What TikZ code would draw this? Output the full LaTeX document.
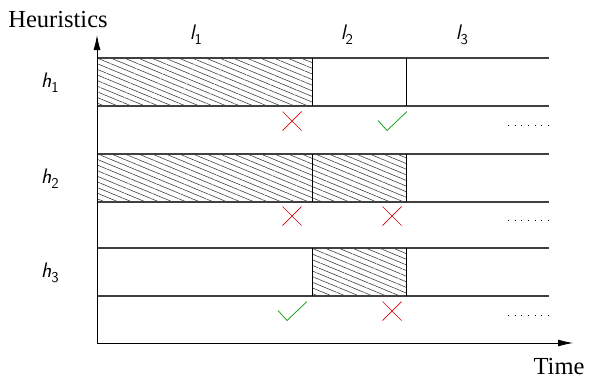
\documentclass[tikz,border=0pt]{standalone}
\usepackage{fontspec}
\setmainfont{Liberation Serif}
\usetikzlibrary{arrows.meta,patterns.meta}
\newcommand\heurlab[2]{#1\raisebox{-0.28em}{\fontsize{15}{17}\selectfont\upshape #2}}
\begin{document}
\begin{tikzpicture}[x=1pt,y=-1pt,
 band/.style={draw=black!75, line width=1.1pt},
 hatch/.style={pattern={Lines[angle=-22.5,distance=5.2pt,line width=0.6pt]}, pattern color=black!75},
 sep/.style={draw=black, line width=0.8pt},
 axis/.style={draw=black, line width=0.8pt, -{Latex[length=15pt,width=7pt]}},
 cross/.style={draw=red!85!black, line width=0.7pt},
 tick/.style={draw=green!60!black, line width=0.7pt},
 more/.style={draw=black, line width=0.8pt, dash pattern=on 0.8pt off 5.87pt},
 lab/.style={font=\fontsize{21}{24}\selectfont\sffamily\itshape, inner sep=0pt},
 ttl/.style={font=\fontsize{24.5}{28}\selectfont, inner sep=0pt},
 xmark/.pic={\draw[cross] (-9.5,-9.5) -- (9.5,9.5) (-9.5,9.5) -- (9.5,-9.5);},
 okmark/.pic={\draw[tick] (-14,-0.5) -- (-5,9.5) -- (15,-9.5);}]
\useasboundingbox (0,0) rectangle (589,378);
% hatched intervals
\fill[hatch] (97,58) rectangle (312,106);
\fill[hatch] (97,154) rectangle (406,202);
\fill[hatch] (312,248) rectangle (406,296);
% band lines
\foreach \yy in {58,106,154,202,248,296}{\draw[band] (97,\yy) -- (549,\yy);}
% interval separators
\foreach \yt/\yb in {58/106,154/202,248/296}{
  \draw[sep] (312,\yt) -- (312,\yb);
  \draw[sep] (406,\yt) -- (406,\yb);}
% axes
\coordinate (o) at (97,343);
\coordinate (ytop) at (97,35);
\coordinate (xend) at (573,343);
\draw[axis] (o) -- (ytop);
\draw[axis] (o) -- (xend);
% marks
\pic at (292,121) {xmark};
\pic at (392,121) {okmark};
\pic at (292,216) {xmark};
\pic at (392,216) {xmark};
\pic at (292,311) {okmark};
\pic at (392,311) {xmark};
% continuation dots
\foreach \yy in {125,220,315}{\draw[more] (508,\yy) -- (549,\yy);}
% labels
\node[ttl, anchor=base] (heur) at (58,27) {Heuristics};
\node[ttl, anchor=base] (time) at (559,374) {Time};
\node[lab, anchor=base] (l1) at (196,39) {\heurlab{l}{1}};
\node[lab, anchor=base] (l2) at (347,39) {\heurlab{l}{2}};
\node[lab, anchor=base] (l3) at (462,39) {\heurlab{l}{3}};
\node[lab, anchor=base] (h1) at (50,87) {\heurlab{h}{1}};
\node[lab, anchor=base] (h2) at (50,183) {\heurlab{h}{2}};
\node[lab, anchor=base] (h3) at (50,277) {\heurlab{h}{3}};
\end{tikzpicture}
\end{document}
